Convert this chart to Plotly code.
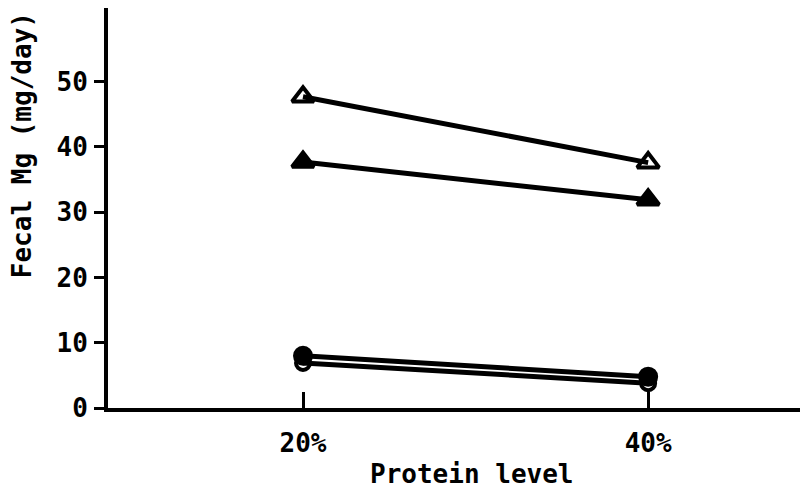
import plotly.graph_objects as go

protein = [20, 40]
tick_labels = ["20%", "40%"]
open_tri = [47.7, 37.6]
filled_tri = [37.7, 31.9]
filled_circ = [8.0, 4.8]
open_circ = [6.9, 3.8]

font = dict(family="DejaVu Sans Mono", size=26, color="black", weight="bold")

fig = go.Figure()
series = [
    (open_tri, "triangle-up-open", 19),
    (filled_tri, "triangle-up", 19),
    (open_circ, "circle-open", 14),
    (filled_circ, "circle", 16),
]
for ys, sym, sz in series:
    fig.add_trace(go.Scatter(
        x=protein, y=ys, mode="lines+markers",
        line=dict(color="black", width=5),
        marker=dict(symbol=sym, size=sz, color="black", line=dict(color="black", width=4)),
        cliponaxis=False, showlegend=False,
    ))

fig.add_annotation(text="Fecal Mg (mg/day)", textangle=-90, xref="paper", yref="paper",
                   x=-0.124, y=0.6575, xanchor="center", yanchor="middle",
                   showarrow=False, font=font)
fig.add_annotation(text="Protein level", xref="paper", yref="paper",
                   x=0.526, y=-0.165, xanchor="center", yanchor="middle",
                   showarrow=False, font=font)

fig.update_layout(
    width=803, height=489,
    margin=dict(l=108, r=3, t=8, b=81),
    paper_bgcolor="white", plot_bgcolor="white",
    font=font,
    xaxis=dict(
        range=[8.7, 48.8], tickvals=protein, ticktext=tick_labels,
        showline=True, linecolor="black", linewidth=4,
        ticks="inside", ticklen=16, tickwidth=3, tickcolor="black",
        ticklabelstandoff=9,
        showgrid=False, zeroline=False,
    ),
    yaxis=dict(
        range=[0, 61.3], tickvals=[0, 10, 20, 30, 40, 50],
        showline=True, linecolor="black", linewidth=4,
        ticks="outside", ticklen=10, tickwidth=3, tickcolor="black",
        ticklabelstandoff=1,
        showgrid=False, zeroline=False,
    ),
)
fig.write_html("out.html")
